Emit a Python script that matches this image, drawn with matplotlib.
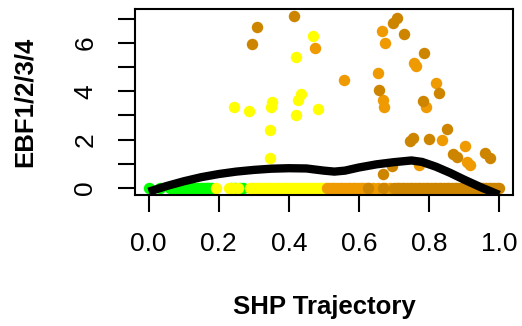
import matplotlib
matplotlib.use("Agg")
import matplotlib.pyplot as plt
import numpy as np

plt.rcParams['font.family'] = ['Liberation Sans', 'DejaVu Sans']

# cells sitting on the zero line, by trajectory position
green_zero_x = [0.0, 0.031, 0.06, 0.07, 0.08, 0.09, 0.10, 0.105, 0.115, 0.12, 0.13,
                0.14, 0.15, 0.155, 0.16, 0.165, 0.17, 0.175, 0.18, 0.235, 0.245,
                0.26, 0.27]
yellow_zero_x = [0.193, 0.228, 0.24, 0.255, 0.29, 0.298, 0.305, 0.313, 0.32, 0.328,
                 0.335, 0.343, 0.35, 0.358, 0.365, 0.373, 0.38, 0.388, 0.395, 0.403,
                 0.41, 0.418, 0.425, 0.433, 0.44, 0.448, 0.455, 0.463, 0.47, 0.478,
                 0.485, 0.493, 0.50, 0.505]
orange_zero_x = [0.51, 0.515, 0.522, 0.53, 0.538, 0.545, 0.552, 0.56, 0.568, 0.575,
                 0.583, 0.59, 0.598, 0.605, 0.612, 0.62, 0.63, 0.64, 0.655, 0.675,
                 0.69]
dark_zero_x = [0.625, 0.67, 0.70, 0.708, 0.715, 0.722, 0.73, 0.738, 0.745, 0.752,
               0.76, 0.768, 0.775, 0.783, 0.79, 0.798, 0.805, 0.813, 0.82, 0.828,
               0.835, 0.843, 0.85, 0.858, 0.865, 0.873, 0.88, 0.888, 0.895, 0.903,
               0.91, 0.918, 0.925, 0.933, 0.94, 0.948, 0.955, 0.963, 0.97, 0.978,
               0.985, 0.993, 1.0]

# cells with expression above zero
yellow_x = [0.469, 0.421, 0.244, 0.287, 0.352, 0.349, 0.436, 0.425, 0.421, 0.482, 0.345, 0.346]
yellow_y = [6.29, 5.41, 3.34, 3.18, 3.56, 3.33, 3.88, 3.64, 3.03, 3.26, 2.38, 1.25]
orange_x = [0.665, 0.674, 0.475, 0.557, 0.655, 0.757, 0.763, 0.820, 0.837, 0.902,
            0.908, 0.917, 0.772, 0.668, 0.672, 0.791]
orange_y = [6.48, 6.00, 5.77, 4.48, 4.77, 5.15, 5.05, 4.32, 2.00, 1.75,
            1.08, 0.97, 0.97, 3.64, 3.36, 3.35]
dark_x = [0.310, 0.296, 0.416, 0.698, 0.710, 0.729, 0.786, 0.657, 0.783, 0.829,
          0.851, 0.746, 0.755, 0.801, 0.868, 0.880, 0.960, 0.974, 0.693, 0.669]
dark_y = [6.67, 5.97, 7.11, 6.82, 7.04, 6.38, 5.59, 4.04, 3.60, 3.91,
          2.42, 1.94, 2.05, 2.01, 1.42, 1.30, 1.45, 1.23, 0.90, 0.59]

# smoothed trend
fit_x = [0.0, 0.05, 0.10, 0.15, 0.20, 0.25, 0.30, 0.35, 0.40, 0.45, 0.50, 0.53,
         0.56, 0.60, 0.65, 0.70, 0.75, 0.78, 0.82, 0.86, 0.90, 0.95, 1.0]
fit_y = [-0.15, 0.08, 0.28, 0.45, 0.58, 0.68, 0.75, 0.80, 0.82, 0.81, 0.72, 0.68,
         0.72, 0.85, 0.98, 1.07, 1.14, 1.08, 0.88, 0.63, 0.35, 0.02, -0.28]

green = '#00FF00'
yellow = '#FFFF00'
orange = '#EE9A00'
dark = '#CD8500'

fig = plt.figure(figsize=(5.22, 3.26), dpi=100)
ax = fig.add_axes([0.258, 0.402, 0.725, 0.570])

s = 68
ax.scatter(green_zero_x, np.zeros(len(green_zero_x)), s=s, c=green, lw=0, zorder=2)
ax.scatter(yellow_zero_x, np.zeros(len(yellow_zero_x)), s=s, c=yellow, lw=0, zorder=2)
ax.scatter(yellow_x, yellow_y, s=s, c=yellow, lw=0, zorder=2)
ax.scatter(orange_zero_x, np.zeros(len(orange_zero_x)), s=s, c=orange, lw=0, zorder=2)
ax.scatter(orange_x, orange_y, s=s, c=orange, lw=0, zorder=2)
ax.scatter(dark_zero_x, np.zeros(len(dark_zero_x)), s=s, c=dark, lw=0, zorder=2)
ax.scatter(dark_x, dark_y, s=s, c=dark, lw=0, zorder=2)

ax.plot(fit_x, fit_y, color='black', lw=6, solid_capstyle='butt', zorder=3)

ax.set_xlim(-0.04, 1.04)
ax.set_ylim(-0.284, 7.39)
ax.set_xticks([0.0, 0.2, 0.4, 0.6, 0.8, 1.0])
ax.set_xticklabels(['0.0', '0.2', '0.4', '0.6', '0.8', '1.0'])
ax.set_yticks(range(8))
ax.set_yticklabels(['0', '', '2', '', '4', '', '6', ''], rotation=90, va='center')

for sp in ax.spines.values():
    sp.set_linewidth(1.5)
ax.tick_params(length=12, width=1.5, labelsize=19, pad=15)
ax.tick_params(axis='y', pad=15)

ax.set_xlabel('SHP Trajectory', fontsize=18.5, fontweight='bold', labelpad=28)
ax.set_ylabel('EBF1/2/3/4', fontsize=18.5, fontweight='bold', labelpad=26)

fig.savefig('out.png', dpi=100)
